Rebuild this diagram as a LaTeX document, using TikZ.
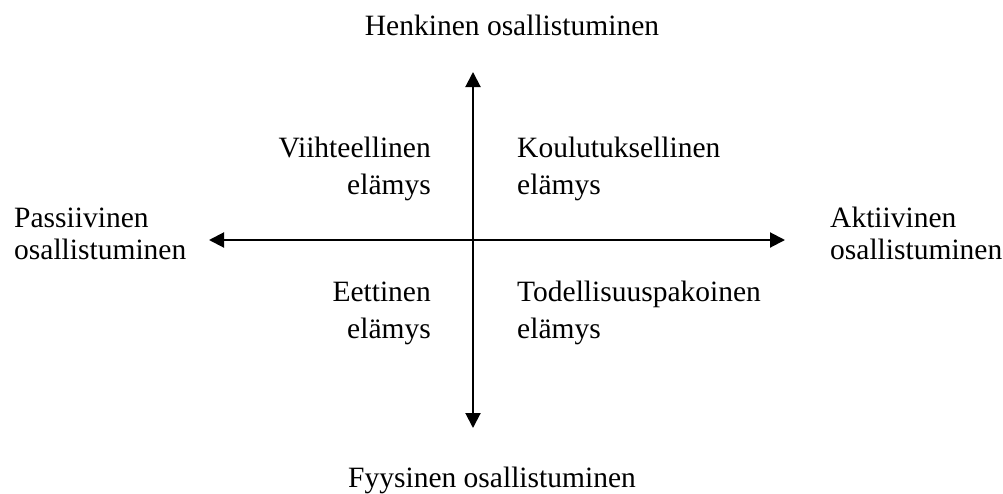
\documentclass[tikz,border=0pt]{standalone}
\usepackage{fontspec}
\setmainfont{Liberation Serif}
\usetikzlibrary{arrows.meta}

\begin{document}
\begin{tikzpicture}[x=1pt, y=-1pt, inner sep=0pt,
  akseli/.style={line width=2pt, {Triangle[length=15pt,width=15pt]}-{Triangle[length=15pt,width=15pt]}},
  reuna/.style={font=\fontsize{29.5}{32}\selectfont},
  lohko/.style={font=\fontsize{29.5}{37}\selectfont}]

\useasboundingbox (0,0) rectangle (1003,493);

\coordinate (n) at (473,72);
\coordinate (s) at (473,428);
\coordinate (w) at (209,240);
\coordinate (e) at (785,240);

\draw[akseli] (s) -- (n);
\draw[akseli] (w) -- (e);

\node[reuna, anchor=base] (h) at (512,35) {Henkinen osallistuminen};
\node[reuna, anchor=base] (f) at (492,487) {Fyysinen osallistuminen};
\node[reuna, anchor=base west, align=left] (p) at (14,259) {Passiivinen\\osallistuminen};
\node[reuna, anchor=base west, align=left] (a) at (830,259) {Aktiivinen\\osallistuminen};

\node[lohko, anchor=base east, align=right] (q1) at (431,194) {Viihteellinen\\elämys};
\node[lohko, anchor=base west, align=left] (q2) at (517,194) {Koulutuksellinen\\elämys};
\node[lohko, anchor=base east, align=right] (q3) at (431,338) {Eettinen\\elämys};
\node[lohko, anchor=base west, align=left] (q4) at (517,338) {Todellisuuspakoinen\\elämys};

\end{tikzpicture}
\end{document}
